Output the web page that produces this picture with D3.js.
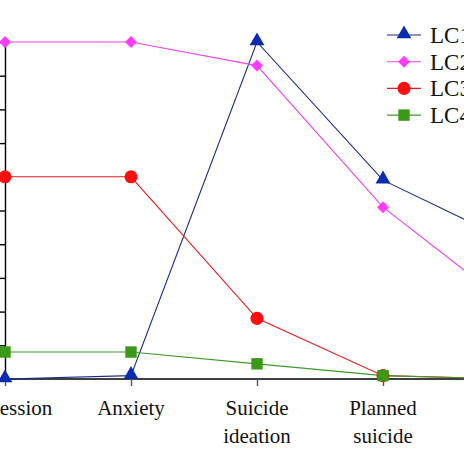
<!DOCTYPE html>
<html>
<head>
<meta charset="utf-8">
<script src="https://cdn.jsdelivr.net/npm/d3@7"></script>
<style>
  body { margin: 0; background: #fff; }
  text { font-family: "Liberation Serif", "DejaVu Serif", serif; fill: #111; }
</style>
</head>
<body>
<script>
const categories = ["Depression", "Anxiety", "Suicide ideation", "Planned suicide", "Attempted suicide"];
const lc1 = [0.0, 0.01, 1.0, 0.59, 0.41];
const lc2 = [1.0, 1.0, 0.93, 0.51, 0.22];
const lc3 = [0.60, 0.60, 0.18, 0.01, 0.0];
const lc4 = [0.08, 0.08, 0.045, 0.01, 0.0];
const seriesNames = ["LC1", "LC2", "LC3", "LC4"];
const yTicks = [0, 0.1, 0.2, 0.3, 0.4, 0.5, 0.6, 0.7, 0.8, 0.9, 1.0];

const width = 464;
const height = 464;

// diamond = square turned 45 degrees, as in the original
const series = [
  { name: seriesNames[0], values: lc1, line: "#1c2a8a", fill: "#0b2bb0", symbol: d3.symbolTriangle, size: 95, rot: 0, dy: -1 },
  { name: seriesNames[1], values: lc2, line: "#ee44ee", fill: "#ff3cff", symbol: d3.symbolSquare, size: 72, rot: 45, dy: 0 },
  { name: seriesNames[2], values: lc3, line: "#e02020", fill: "#ff1010", symbol: d3.symbolCircle, size: 135, rot: 0, dy: 0 },
  { name: seriesNames[3], values: lc4, line: "#3f9a2a", fill: "#3a9a18", symbol: d3.symbolSquare, size: 130, rot: 0, dy: 0 }
];

let svg = d3.select('body')
            .append('svg')
            .attr('width', width)
            .attr('height', height);

let x = d3.scalePoint()
          .domain(categories)
          .range([5, 509]);

let y = d3.scaleLinear()
          .domain([0, 1])
          .range([379, 42]);

// y axis (labels sit off the left edge in the cropped original)
svg.append('g')
   .attr('transform', 'translate(5,0)')
   .call(d3.axisLeft(y).tickValues(yTicks).tickSize(5).tickFormat(''))
   .call(g => g.selectAll('path, line').attr('stroke', '#000').attr('stroke-width', 1.4));

// x axis
let xAxis = svg.append('g')
   .attr('transform', 'translate(0,379)')
   .call(d3.axisBottom(x).tickSize(7).tickSizeOuter(0).tickFormat(''));
xAxis.select('.domain').attr('stroke', '#000').attr('stroke-width', 1.4).attr('d', 'M5,0H' + (width + 20));
xAxis.selectAll('.tick line').attr('stroke', '#555').attr('stroke-width', 1.4);

categories.forEach(c => {
    let words = c.split(' ');
    let t = svg.append('text')
               .attr('x', x(c))
               .attr('y', 415)
               .attr('text-anchor', 'middle')
               .style('font-size', '21px');
    words.forEach((w, i) => {
        t.append('tspan')
         .attr('x', x(c))
         .attr('dy', i === 0 ? 0 : 28)
         .text(w);
    });
});

let line = d3.line()
             .x((d, i) => x(categories[i]))
             .y(d => y(d));

series.forEach(s => {
    svg.append('path')
       .datum(s.values)
       .attr('d', line)
       .attr('fill', 'none')
       .attr('stroke', s.line)
       .attr('stroke-width', 1.1);
});

series.forEach(s => {
    svg.selectAll(null)
       .data(s.values)
       .enter()
       .append('path')
       .attr('d', d3.symbol().type(s.symbol).size(s.size))
       .attr('transform', (d, i) => 'translate(' + x(categories[i]) + ',' + (y(d) + s.dy) + ') rotate(' + s.rot + ')')
       .attr('fill', s.fill);
});

// legend
let legend = svg.append('g').attr('transform', 'translate(387,35)');
series.forEach((s, i) => {
    let g = legend.append('g').attr('transform', 'translate(0,' + (i * 26.7) + ')');
    g.append('line')
     .attr('x1', 0).attr('x2', 34)
     .attr('stroke', s.line).attr('stroke-width', 1.1);
    g.append('path')
     .attr('d', d3.symbol().type(s.symbol).size(s.size))
     .attr('transform', 'translate(17,' + s.dy + ') rotate(' + s.rot + ')')
     .attr('fill', s.fill);
    g.append('text')
     .attr('x', 43)
     .attr('y', 8)
     .style('font-size', '23px')
     .text(s.name);
});
</script>
</body>
</html>
